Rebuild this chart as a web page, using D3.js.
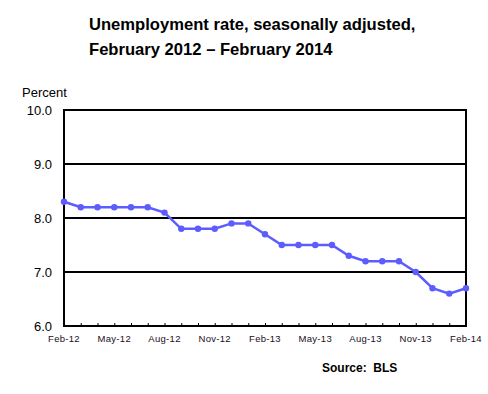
<!DOCTYPE html>
<html>
<head>
<meta charset="utf-8">
<script src="https://cdn.jsdelivr.net/npm/d3@7"></script>
<style>
  html, body { margin: 0; padding: 0; background: #fff; }
  svg { display: block; font-family: "Liberation Sans", Arial, sans-serif; }
</style>
</head>
<body>
<svg id="chart" width="488" height="394"></svg>
<script>
const months = ["Feb-12","Mar-12","Apr-12","May-12","Jun-12","Jul-12","Aug-12","Sep-12","Oct-12","Nov-12","Dec-12","Jan-13",
                "Feb-13","Mar-13","Apr-13","May-13","Jun-13","Jul-13","Aug-13","Sep-13","Oct-13","Nov-13","Dec-13","Jan-14","Feb-14"];
const rates = [8.3, 8.2, 8.2, 8.2, 8.2, 8.2, 8.1, 7.8, 7.8, 7.8, 7.9, 7.9,
               7.7, 7.5, 7.5, 7.5, 7.5, 7.3, 7.2, 7.2, 7.2, 7.0, 6.7, 6.6, 6.7];
const xTickLabels = ["Feb-12","May-12","Aug-12","Nov-12","Feb-13","May-13","Aug-13","Nov-13","Feb-14"];
const yTicks = [6, 7, 8, 9, 10];
const titleLines = ["Unemployment rate, seasonally adjusted,", "February 2012 \u2013 February 2014"];

const svg = d3.select("#chart");
const mL = 64, mR = 466, mT = 110, mB = 326;

const x = d3.scalePoint().domain(months).range([mL, mR]);
const y = d3.scaleLinear().domain([6, 10]).range([mB, mT]);

// Title
svg.selectAll("text.title").data(titleLines).enter().append("text")
  .attr("class", "title")
  .attr("x", 89).attr("y", (d, i) => 30 + i * 25)
  .attr("font-size", 16.6).attr("font-weight", "bold").attr("fill", "#000")
  .text(d => d);

// Percent label
svg.append("text").attr("x", 22).attr("y", 97)
  .attr("font-size", 13).attr("fill", "#000").text("Percent");

// Gridlines
svg.append("g").selectAll("line").data(yTicks.filter(v => v > 6)).enter().append("line")
  .attr("x1", mL).attr("x2", mR)
  .attr("y1", d => y(d)).attr("y2", d => y(d))
  .attr("stroke", "#000").attr("stroke-width", 1.2).attr("shape-rendering", "crispEdges");

// Y axis
const yAxis = svg.append("g").attr("transform", `translate(${mL},0)`)
  .call(d3.axisLeft(y).tickValues(yTicks).tickFormat(d3.format(".1f")).tickSize(0).tickPadding(12));
yAxis.select(".domain").remove();
yAxis.selectAll("text").attr("font-size", 13).attr("font-family", "Liberation Sans, Arial, sans-serif").attr("fill", "#000");

// Frame
svg.append("rect").attr("x", mL).attr("y", mT).attr("width", mR - mL).attr("height", mB - mT)
  .attr("fill", "none").attr("stroke", "#000").attr("stroke-width", 1.3).attr("shape-rendering", "crispEdges");

// X axis ticks (inward)
const xAxis = svg.append("g").attr("transform", `translate(0,${mB})`)
  .call(d3.axisTop(x).tickValues(months).tickSize(3).tickFormat(""));
xAxis.select(".domain").remove();
xAxis.selectAll("line").attr("stroke", "#000");

// X labels
svg.append("g").selectAll("text").data(xTickLabels).enter().append("text")
  .attr("x", d => x(d)).attr("y", 342)
  .attr("text-anchor", "middle").attr("font-size", 9.5).attr("fill", "#1a0d1a")
  .attr("letter-spacing", 0.3)
  .text(d => d);

// Line
const color = "#5c5cff";
svg.append("path").datum(rates)
  .attr("fill", "none").attr("stroke", color).attr("stroke-width", 2.5)
  .attr("d", d3.line().x((d, i) => x(months[i])).y(d => y(d)));

svg.append("g").selectAll("circle").data(rates).enter().append("circle")
  .attr("cx", (d, i) => x(months[i])).attr("cy", d => y(d)).attr("r", 3.2)
  .attr("fill", color);

// Source
svg.append("text").attr("x", 322).attr("y", 372)
  .attr("font-size", 12).attr("font-weight", "bold").attr("fill", "#000")
  .attr("xml:space", "preserve").style("white-space", "pre")
  .text("Source:  BLS");
</script>
</body>
</html>
